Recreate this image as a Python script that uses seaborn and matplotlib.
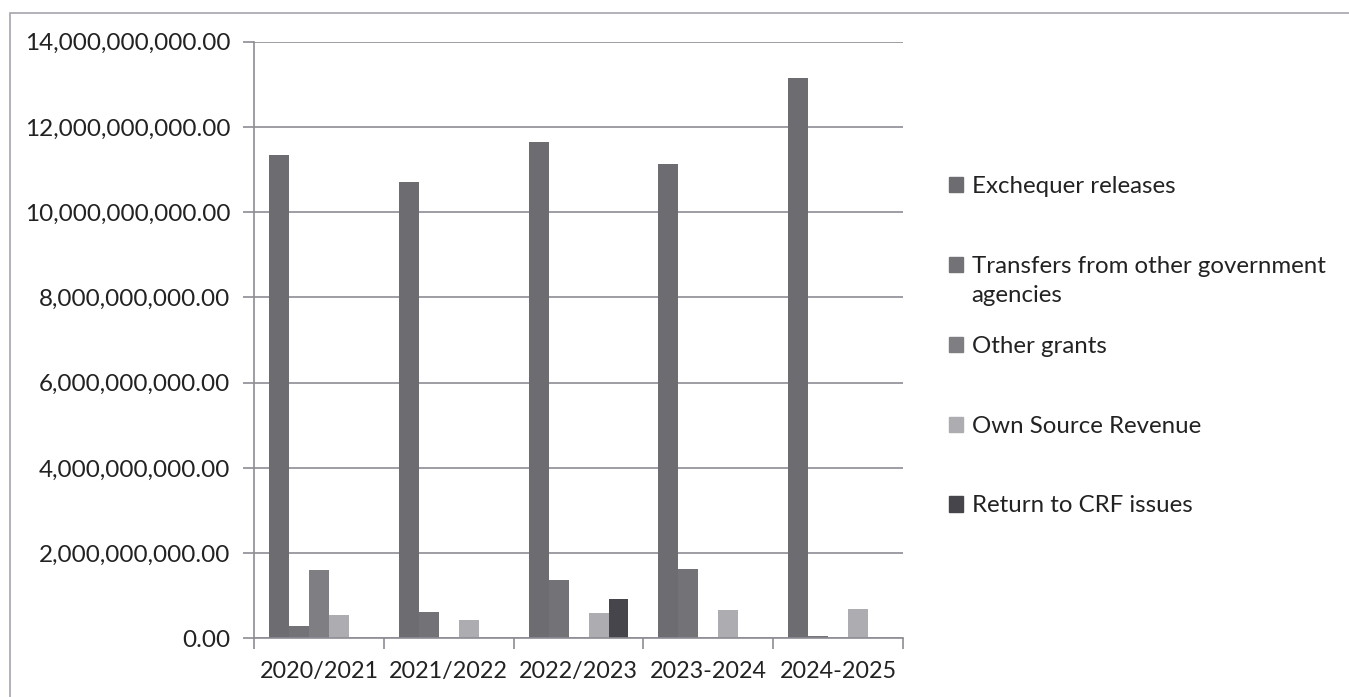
import matplotlib
matplotlib.use("Agg")
import matplotlib.pyplot as plt
import matplotlib.patches as mpatches
from matplotlib.ticker import FuncFormatter, MultipleLocator
import seaborn as sns
import pandas as pd

# data
years = ['2020/2021', '2021/2022', '2022/2023', '2023-2024', '2024-2025']
series = ['Exchequer releases', 'Transfers from other government agencies',
          'Other grants', 'Own Source Revenue', 'Return to CRF issues']
exchequer = [11.33e9, 10.70e9, 11.64e9, 11.13e9, 13.15e9]
transfers = [0.30e9, 0.61e9, 1.37e9, 1.62e9, 0.06e9]
other_grants = [1.60e9, 0.0, 0.0, 0.0, 0.0]
own_source = [0.55e9, 0.44e9, 0.59e9, 0.66e9, 0.69e9]
crf_issues = [0.0, 0.0, 0.93e9, 0.0, 0.0]

colors = ['#6c6c71', '#727277', '#7e7e83', '#acacb1', '#45454b']

rows = []
for name, vals in zip(series, [exchequer, transfers, other_grants, own_source, crf_issues]):
    for yr, v in zip(years, vals):
        rows.append({'Year': yr, 'Series': name, 'Value': v})
df = pd.DataFrame(rows)

sns.set_style('white')
plt.rcParams['font.family'] = ['Lato', 'DejaVu Sans']

fig = plt.figure(figsize=(13.49, 6.97), dpi=100)
ax = fig.add_axes([0.1883, 0.0842, 0.4811, 0.856])

sns.barplot(data=df, x='Year', y='Value', hue='Series', hue_order=series,
            order=years, palette=colors, width=0.77, saturation=1,
            errorbar=None, ax=ax, legend=False, linewidth=0)

grid_col = '#8c8c94'
ax.set_ylim(0, 14e9)
ax.set_xlim(-0.5, len(years) - 0.5)
ax.yaxis.set_major_locator(MultipleLocator(2e9))
ax.yaxis.set_major_formatter(FuncFormatter(lambda v, p: f'{v:,.2f}'))
ax.grid(axis='y', color=grid_col, linewidth=1.2)
ax.set_axisbelow(True)
ax.set_xlabel('')
ax.set_ylabel('')

for s in ['top', 'right']:
    ax.spines[s].set_visible(False)
for s in ['left', 'bottom']:
    ax.spines[s].set_color(grid_col)
    ax.spines[s].set_linewidth(1.2)

ax.tick_params(axis='y', length=8, width=1.2, color=grid_col, labelsize=17.5,
               labelcolor='#222222', pad=9, left=True)
ax.set_xticks(range(len(years)))
ax.set_xticklabels(years)
ax.tick_params(axis='x', length=0, labelsize=16.8, labelcolor='#222222', pad=16)
# group boundary ticks
ax.set_xticks([i - 0.5 for i in range(len(years) + 1)], minor=True)
ax.tick_params(axis='x', which='minor', length=8, width=1.2, color=grid_col, bottom=True)

# legend (the long label wraps onto a second line like the original)
handles = [mpatches.Patch(color=c) for c in colors]
labels = ['Exchequer releases', 'Transfers from other government',
          'Other grants', 'Own Source Revenue', 'Return to CRF issues']
leg = fig.legend(handles=handles, labels=labels, loc='upper left',
                 bbox_to_anchor=(949 / 1349, 1 - 176 / 697),
                 frameon=False, fontsize=17.3, handlelength=0.6, handleheight=0.6,
                 handletextpad=0.35, labelspacing=2.45, labelcolor='#222222',
                 borderpad=0, borderaxespad=0)
fig.text(971 / 1349, 1 - 296 / 697, 'agencies', fontsize=17.3, color='#222222',
         va='center', ha='left')

# outer chart frame
frame = mpatches.Rectangle((10 / 1349, -0.05), 1.2, 1 - 13 / 697 + 0.05,
                           transform=fig.transFigure, fill=False,
                           edgecolor='#a4a4ae', linewidth=1.2)
fig.patches.append(frame)

fig.savefig('out.png', dpi=100)
